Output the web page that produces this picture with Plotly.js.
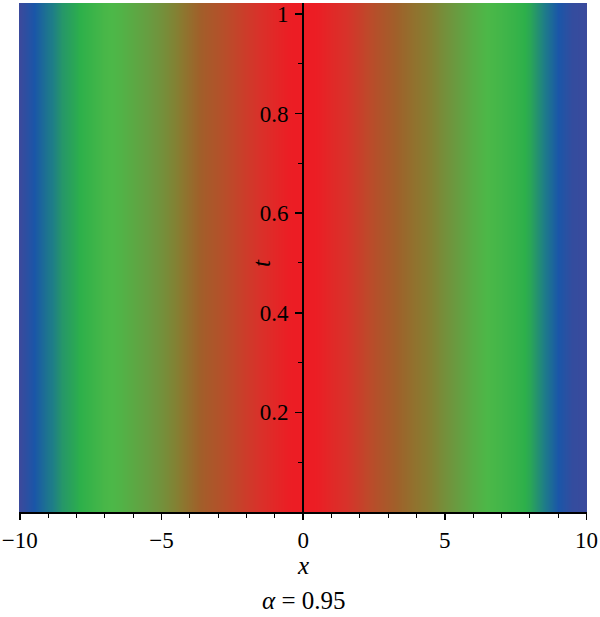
<!DOCTYPE html>
<html>
<head>
<meta charset="utf-8">
<script src="https://cdn.plot.ly/plotly-3.0.1.min.js"></script>
<style>html,body{margin:0;padding:0;background:#fff;}#chart{width:600px;height:617px;}</style>
</head>
<body>
<div id="chart"></div>
<script>
// x positions of the density samples
var xValues = [-10,-9.5,-9,-8.5,-8,-7.5,-7,-6.5,-6,-5.5,-5,-4.5,-4,-3.5,-3,-2.5,-2,-1.5,-1,-0.5,0,0.5,1,1.5,2,2.5,3,3.5,4,4.5,5,5.5,6,6.5,7,7.5,8,8.5,9,9.5,10];
// t positions (solution constant in t)
var tValues = [0, 1.03];
// estimated relative density value at each x
var uValues = [0.00,0.10,0.20,0.27,0.31,0.36,0.41,0.43,0.46,0.49,0.53,0.58,0.64,0.70,0.74,0.79,0.84,0.89,0.94,0.99,1.00,0.99,0.93,0.88,0.82,0.76,0.71,0.66,0.62,0.58,0.53,0.49,0.45,0.42,0.39,0.35,0.30,0.22,0.10,0.02,0.00];
var xTickVals = [-10,-5,0,5,10];
var xTickText = ['\u221210','\u22125','0','5','10'];
var tTickVals = [0.2,0.4,0.6,0.8,1];
var tTickText = ['0.2','0.4','0.6','0.8','1'];
var tMinorVals = [0.1,0.3,0.5,0.7,0.9];

var zRows = tValues.map(function(){ return uValues.slice(); });

var colorscale = [
  [0.00,'#3a4a9c'],
  [0.10,'#1a56a8'],
  [0.22,'#1e7d88'],
  [0.32,'#2db04a'],
  [0.42,'#4cb848'],
  [0.50,'#6a9a40'],
  [0.60,'#8a7a30'],
  [0.68,'#a0602a'],
  [0.78,'#bc4a2a'],
  [0.88,'#d8322a'],
  [1.00,'#ed1c24']
];

var xRange = [-10.03, 10.02];
var yRange = [0, 1.022];
var font = {family:'Liberation Serif, DejaVu Serif, serif', size:23, color:'#000'};
var labelFont = {family:'Liberation Serif, DejaVu Serif, serif', size:25, color:'#000'};
var zeroFrac = (0 - xRange[0])/(xRange[1]-xRange[0]);

var trace = {
  type:'heatmap', x:xValues, y:tValues, z:zRows,
  colorscale:colorscale, zmin:0, zmax:1, zsmooth:'best', showscale:false, hoverinfo:'skip'
};

var layout = {
  width:600, height:617,
  margin:{l:19, r:13, t:3, b:105},
  paper_bgcolor:'#fff', plot_bgcolor:'#fff',
  font:font, showlegend:false,
  xaxis:{
    range:xRange, showgrid:false, zeroline:false,
    showline:true, linecolor:'#000', linewidth:2,
    tickmode:'array', tickvals:xTickVals, ticktext:xTickText,
    ticks:'outside', ticklen:6, tickwidth:1.5, tickcolor:'#000',
    minor:{tickmode:'linear', tick0:0, dtick:1, ticks:'outside', ticklen:4, tickwidth:1, tickcolor:'#000'},
    tickfont:font, ticklabeloverflow:'allow'
  },
  yaxis:{
    range:yRange, showgrid:false, zeroline:false,
    anchor:'free', position:zeroFrac,
    showline:true, linecolor:'#000', linewidth:2,
    tickmode:'array', tickvals:tTickVals, ticktext:tTickText,
    ticks:'outside', ticklen:7, tickwidth:1.5, tickcolor:'#000',
    minor:{tickmode:'array', tickvals:tMinorVals, ticks:'outside', ticklen:4, tickwidth:1, tickcolor:'#000'},
    tickfont:font, ticklabelstandoff:2, ticklabeloverflow:'allow'
  },
  annotations:[
    {text:'<i>x</i>', xref:'paper', yref:'paper', x:zeroFrac, y:-0.105, showarrow:false, font:labelFont, xanchor:'center', yanchor:'middle'},
    {text:'<i>\u03b1</i> = 0.95', xref:'paper', yref:'paper', x:zeroFrac, y:-0.174, showarrow:false, font:labelFont, xanchor:'center', yanchor:'middle'},
    {text:'<i>t</i>', xref:'x', yref:'y', x:-1.45, y:0.5, showarrow:false, font:labelFont, textangle:-90, xanchor:'center', yanchor:'middle'}
  ]
};

Plotly.newPlot('chart', [trace], layout, {staticPlot:true, displayModeBar:false});
</script>
</body>
</html>
